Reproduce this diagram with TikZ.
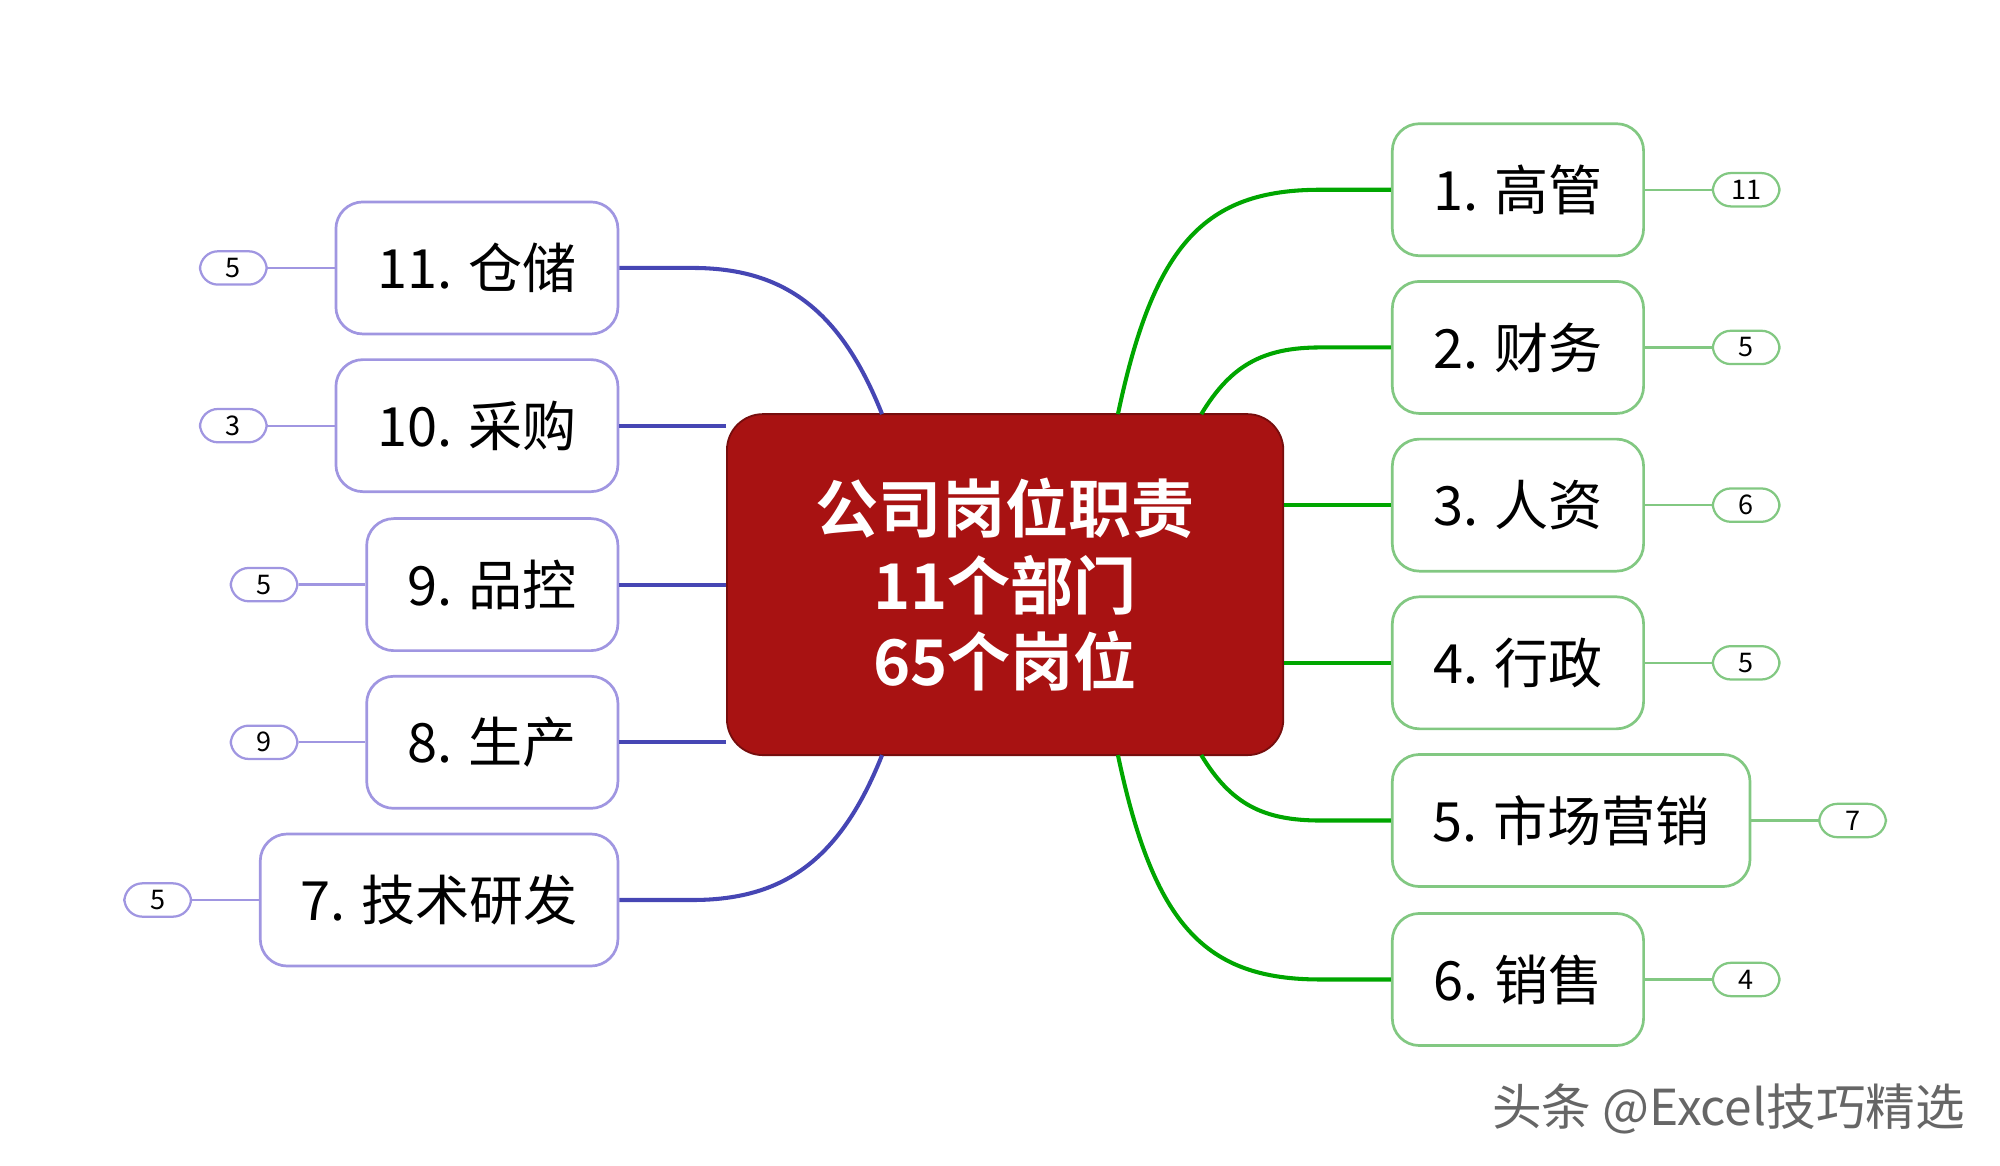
\documentclass[tikz,border=0pt]{standalone}
\usepackage{fontspec}
\setmainfont{Noto Sans CJK SC}
\newfontfamily\cjkb{Noto Sans CJK SC Bold}
\definecolor{lpur}{RGB}{160,150,225}
\definecolor{lgrn}{RGB}{130,200,130}
\definecolor{dpur}{RGB}{70,70,180}
\definecolor{cr}{RGB}{168,18,18}
\begin{document}
\begin{tikzpicture}[x=0.01cm,y=-0.01cm,
  dep/.style={draw, rounded corners=6pt, line width=0.6pt, fill=white, font=\fontsize{12}{14}\selectfont, inner sep=0pt},
  rdep/.style={dep, draw=lgrn},
  ldep/.style={dep, draw=lpur},
  badge/.style={draw, rounded corners=4pt, line width=0.5pt, minimum width=52*0.01cm, minimum height=26*0.01cm, inner sep=0pt, font=\fontsize{6}{7}\selectfont},
  rb/.style={badge, draw=lgrn},
  lb/.style={badge, draw=lpur},
  gl/.style={draw=green!65!black, line width=0.9pt},
  pl/.style={draw=dpur, line width=0.9pt},
  gt/.style={draw=lgrn, line width=0.5pt},
  pt/.style={draw=lpur, line width=0.5pt}]
\useasboundingbox (0,0) rectangle (1560,909);
% center
\node[fill=cr, draw=cr!70!black, rounded corners=8pt, minimum width=434*0.01cm, minimum height=266*0.01cm, text=white, align=center, font=\cjkb\fontsize{14}{17}\selectfont] (c) at (784,456) {公司岗位职责\\11个部门\\65个岗位};
% right
\node[rdep, minimum width=196*0.01cm, minimum height=103*0.01cm] (r1) at (1184,148) {1. 高管};
\node[rdep, minimum width=196*0.01cm, minimum height=103*0.01cm] (r2) at (1184,271) {2. 财务};
\node[rdep, minimum width=196*0.01cm, minimum height=103*0.01cm] (r3) at (1184,394) {3. 人资};
\node[rdep, minimum width=196*0.01cm, minimum height=103*0.01cm] (r4) at (1184,517) {4. 行政};
\node[rdep, minimum width=279*0.01cm, minimum height=103*0.01cm] (r5) at (1225.5,640) {5. 市场营销};
\node[rdep, minimum width=196*0.01cm, minimum height=103*0.01cm] (r6) at (1184,764) {6. 销售};
\node[rb] (b1) at (1362,148) {11};
\node[rb] (b2) at (1362,271) {5};
\node[rb] (b3) at (1362,394) {6};
\node[rb] (b4) at (1362,517) {5};
\node[rb] (b5) at (1445,640) {7};
\node[rb] (b6) at (1362,764) {4};
% left
\node[ldep, minimum width=220*0.01cm, minimum height=103*0.01cm] (l11) at (372,209) {11. 仓储};
\node[ldep, minimum width=220*0.01cm, minimum height=103*0.01cm] (l10) at (372,332) {10. 采购};
\node[ldep, minimum width=196*0.01cm, minimum height=103*0.01cm] (l9) at (384,456) {9. 品控};
\node[ldep, minimum width=196*0.01cm, minimum height=103*0.01cm] (l8) at (384,579) {8. 生产};
\node[ldep, minimum width=279*0.01cm, minimum height=103*0.01cm] (l7) at (342.5,702) {7. 技术研发};
\node[lb] (a11) at (182,209) {5};
\node[lb] (a10) at (182,332) {3};
\node[lb] (a9) at (206,456) {5};
\node[lb] (a8) at (206,579) {9};
\node[lb] (a7) at (123,702) {5};
% connectors
\coordinate (c1) at (872,323); \coordinate (c2) at (937,323);
\coordinate (c5) at (937,589); \coordinate (c6) at (872,589);
\coordinate (c11) at (688,323); \coordinate (c7) at (688,589);
\draw[gl] (c1) .. controls (900,190) and (940,148) .. (1030,148) -- (r1.west);
\draw[gl] (c2) .. controls (960,285) and (985,271) .. (1030,271) -- (r2.west);
\draw[gl] (c.east |- r3) -- (r3.west);
\draw[gl] (c.east |- r4) -- (r4.west);
\draw[gl] (c5) .. controls (960,627) and (985,640) .. (1030,640) -- (r5.west);
\draw[gl] (c6) .. controls (900,722) and (940,764) .. (1030,764) -- (r6.west);
\draw[pl] (c11) .. controls (655,240) and (610,209) .. (540,209) -- (l11.east);
\draw[pl] (c.west |- l10) -- (l10.east);
\draw[pl] (c.west |- l9) -- (l9.east);
\draw[pl] (c.west |- l8) -- (l8.east);
\draw[pl] (c7) .. controls (655,672) and (610,702) .. (540,702) -- (l7.east);
\foreach \a/\b in {r1/b1,r2/b2,r3/b3,r4/b4,r5/b5,r6/b6} \draw[gt] (\a.east) -- (\b.west);
\foreach \a/\b in {l11/a11,l10/a10,l9/a9,l8/a8,l7/a7} \draw[pt] (\a.west) -- (\b.east);
\node[text=black!60, font=\fontsize{11}{13}\selectfont, anchor=east] (wm) at (1545,865) {头条 @Excel技巧精选};
\end{tikzpicture}
\end{document}
